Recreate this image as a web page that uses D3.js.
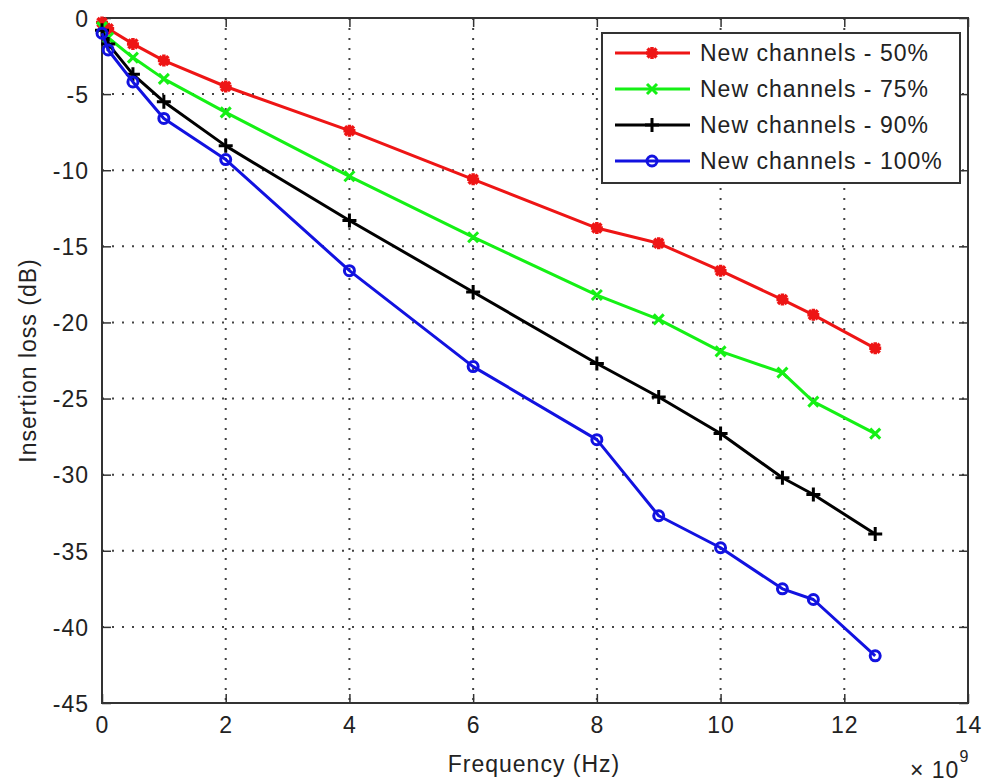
<!DOCTYPE html>
<html>
<head>
<meta charset="utf-8">
<script src="https://cdn.jsdelivr.net/npm/d3@7"></script>
<style>
    body { margin: 0; background: #fff; }
    svg text { font-family: "Liberation Sans", Arial, sans-serif; fill: #222; }
</style>
</head>
<body>
<div id="chart"></div>
<script>
// frequency in units of 1e9 Hz
const freq = [0, 0.1, 0.5, 1, 2, 4, 6, 8, 9, 10, 11, 11.5, 12.5]
const loss50 = [-0.3, -0.7, -1.7, -2.8, -4.5, -7.4, -10.6, -13.8, -14.8, -16.6, -18.5, -19.5, -21.7]
const loss75 = [-0.6, -1.3, -2.6, -4.0, -6.2, -10.4, -14.4, -18.2, -19.8, -21.9, -23.3, -25.2, -27.3]
const loss90 = [-0.8, -1.7, -3.7, -5.5, -8.4, -13.3, -18.0, -22.7, -24.9, -27.3, -30.2, -31.3, -33.9]
const loss100 = [-1.0, -2.1, -4.2, -6.6, -9.3, -16.6, -22.9, -27.7, -32.7, -34.8, -37.5, -38.2, -41.9]
const seriesNames = ['New channels - 50%', 'New channels - 75%', 'New channels - 90%', 'New channels - 100%']
const xTicks = [0, 2, 4, 6, 8, 10, 12, 14]
const yTicks = [0, -5, -10, -15, -20, -25, -30, -35, -40, -45]

const series = [
    { name: seriesNames[0], values: loss50, color: '#ee1515', marker: 'star' },
    { name: seriesNames[1], values: loss75, color: '#15f015', marker: 'x' },
    { name: seriesNames[2], values: loss90, color: '#000000', marker: 'plus' },
    { name: seriesNames[3], values: loss100, color: '#1212e0', marker: 'circle' }
]

const width = 984, height = 783
const margin = { top: 18, right: 16, bottom: 80, left: 102 }
const plotW = width - margin.left - margin.right
const plotH = height - margin.top - margin.bottom
const tickLen = 9
const fontSize = 23
const lineW = 3

const svg = d3.select('#chart').append('svg')
    .attr('width', width)
    .attr('height', height)

const g = svg.append('g')
    .attr('transform', `translate(${margin.left},${margin.top})`)

const x = d3.scaleLinear().domain([0, 14]).range([0, plotW])
const y = d3.scaleLinear().domain([-45, 0]).range([plotH, 0])

g.append('rect')
    .attr('width', plotW).attr('height', plotH)
    .attr('fill', '#fff')

// dotted grid
g.append('g').selectAll('line')
    .data(xTicks.slice(1, -1))
    .join('line')
    .attr('x1', d => x(d)).attr('x2', d => x(d))
    .attr('y1', 0).attr('y2', plotH)
    .attr('stroke', '#444').attr('stroke-width', 2)
    .attr('stroke-dasharray', '2,8')

g.append('g').selectAll('line')
    .data(yTicks.slice(1, -1))
    .join('line')
    .attr('y1', d => y(d)).attr('y2', d => y(d))
    .attr('x1', 0).attr('x2', plotW)
    .attr('stroke', '#444').attr('stroke-width', 2)
    .attr('stroke-dasharray', '2,8')

// axes with inward ticks, box on all four sides
const axisStyle = sel => {
    sel.selectAll('.domain').remove()
    sel.selectAll('.tick line').attr('stroke', '#333').attr('stroke-width', 1.5)
    sel.selectAll('.tick text')
        .style('font-size', fontSize + 'px')
        .style('letter-spacing', '1px')
        .attr('fill', '#222')
}

const plain = d => String(d)

g.append('g')
    .attr('transform', `translate(0,${plotH})`)
    .call(d3.axisBottom(x).tickValues(xTicks).tickSize(-tickLen).tickPadding(14).tickFormat(plain))
    .call(axisStyle)

g.append('g')
    .call(d3.axisTop(x).tickValues(xTicks).tickSize(-tickLen).tickFormat(''))
    .call(axisStyle)

g.append('g')
    .call(d3.axisLeft(y).tickValues(yTicks).tickSize(-tickLen).tickPadding(13).tickFormat(plain))
    .call(axisStyle)
    .selectAll('.tick text').attr('dy', '0.36em')

g.append('g')
    .attr('transform', `translate(${plotW},0)`)
    .call(d3.axisRight(y).tickValues(yTicks).tickSize(-tickLen).tickFormat(''))
    .call(axisStyle)

g.append('rect')
    .attr('width', plotW).attr('height', plotH)
    .attr('fill', 'none')
    .attr('stroke', '#333').attr('stroke-width', 2)

// markers
function drawMarker(sel, type, color) {
    if (type === 'circle') {
        sel.append('circle').attr('r', 5)
            .attr('fill', 'none').attr('stroke', color).attr('stroke-width', lineW)
    } else if (type === 'x') {
        sel.append('path').attr('d', 'M-5,-5L5,5M-5,5L5,-5')
            .attr('stroke', color).attr('stroke-width', lineW)
    } else if (type === 'plus') {
        sel.append('path').attr('d', 'M-7,0H7M0,-7V7')
            .attr('stroke', color).attr('stroke-width', lineW)
    } else {
        sel.append('path').attr('d', 'M-6,0H6M0,-6V6M-4.5,-4.5L4.5,4.5M-4.5,4.5L4.5,-4.5')
            .attr('stroke', color).attr('stroke-width', 3.5)
    }
}

const line = d3.line()
    .x((d, i) => x(freq[i]))
    .y(d => y(d))

series.forEach(s => {
    const sg = g.append('g')
    sg.append('path')
        .attr('d', line(s.values))
        .attr('fill', 'none')
        .attr('stroke', s.color)
        .attr('stroke-width', lineW)
        .attr('stroke-linejoin', 'round')

    sg.selectAll('g.pt')
        .data(s.values)
        .join('g')
        .attr('class', 'pt')
        .attr('transform', (d, i) => `translate(${x(freq[i])},${y(d)})`)
        .each(function () { drawMarker(d3.select(this), s.marker, s.color) })
})

// legend
const legend = svg.append('g').attr('transform', 'translate(602,33)')
legend.append('rect')
    .attr('width', 358).attr('height', 150)
    .attr('fill', '#fff').attr('stroke', '#333').attr('stroke-width', 2)

series.forEach((s, i) => {
    const row = legend.append('g').attr('transform', `translate(0,${20 + i * 36})`)
    row.append('line')
        .attr('x1', 13).attr('x2', 88)
        .attr('stroke', s.color).attr('stroke-width', lineW)
    drawMarker(row.append('g').attr('transform', 'translate(50,0)'), s.marker, s.color)
    row.append('text')
        .attr('x', 98).attr('dy', '0.36em')
        .style('font-size', fontSize + 'px')
        .style('letter-spacing', '1px')
        .text(s.name)
})

// axis titles
svg.append('text')
    .attr('x', margin.left + plotW / 2 - 1).attr('y', 772)
    .attr('text-anchor', 'middle')
    .style('font-size', fontSize + 'px')
    .style('letter-spacing', '1px')
    .text('Frequency (Hz)')

svg.append('text')
    .attr('transform', `translate(36,${margin.top + plotH / 2}) rotate(-90)`)
    .attr('text-anchor', 'middle')
    .style('font-size', fontSize + 'px')
    .style('letter-spacing', '1px')
    .text('Insertion loss (dB)')

// exponent label
const expo = svg.append('text')
    .attr('x', 910).attr('y', 778)
    .style('font-size', fontSize + 'px')
    .style('letter-spacing', '1px')
expo.append('tspan').text('× 10')
expo.append('tspan').attr('dy', -16).style('font-size', '16px').text('9')
</script>
</body>
</html>
